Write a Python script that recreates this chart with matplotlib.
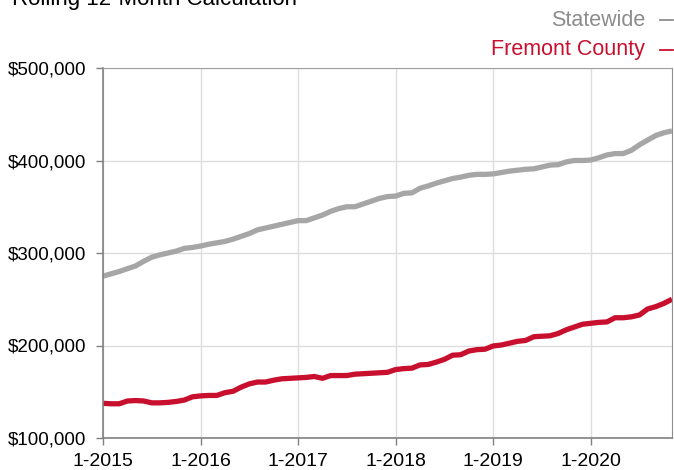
import matplotlib
matplotlib.use('Agg')
import matplotlib.pyplot as plt
from matplotlib.lines import Line2D
from matplotlib.ticker import FuncFormatter
import numpy as np

# monthly rolling 12-month values, 1-2015 .. 11-2020
statewide = [275, 277.5, 280, 283, 286, 291, 295.5, 298, 300, 302, 305, 306,
             307.5, 309.5, 311, 312.5, 315, 318, 321, 325, 327, 329, 331, 333,
             335, 335, 338, 341, 345, 348, 350, 350, 353, 356, 359, 361,
             361.5, 364.5, 365, 370, 372.5, 375.5, 378, 380.5, 382, 384, 385, 385,
             385.5, 387, 388.5, 389.5, 390.5, 391, 393, 395, 395.5, 398.5, 400, 400,
             400.5, 403, 406, 407.5, 407.5, 411, 417, 422, 427, 430, 432]
fremont = [137.5, 137, 137, 140, 140.5, 140, 138, 138, 138.5, 139.5, 141, 144.5,
           145.5, 146, 146, 149, 150.5, 155, 158.5, 160.5, 160.5, 162.5, 164, 164.5,
           165, 165.5, 166.5, 164.5, 167.5, 167.5, 167.5, 169, 169.5, 170, 170.5, 171,
           174, 175, 175.5, 179, 179.5, 182, 185, 189.5, 190, 194, 195.5, 196,
           199.5, 200.5, 202.5, 204.5, 205.5, 209.5, 210, 210.5, 213, 217, 220, 223,
           224, 225, 225.5, 230, 230, 231, 233, 239.5, 242, 245.5, 250]
year_labels = ['1-2015', '1-2016', '1-2017', '1-2018', '1-2019', '1-2020']

plt.rcParams['font.family'] = ['Liberation Sans', 'DejaVu Sans']

gray = '#a6a6a6'
red = '#c8102e'

fig = plt.figure(figsize=(6.74, 4.70), dpi=100)
ax = fig.add_axes([103 / 674, 32 / 470, 569 / 674, 370 / 470])

months = np.arange(len(statewide))
ax.plot(months, np.array(statewide) * 1000, color=gray, lw=3.8, solid_capstyle='butt')
ax.plot(months, np.array(fremont) * 1000, color=red, lw=3.8, solid_capstyle='butt')

ax.set_xlim(0, len(statewide) - 1)
ax.set_ylim(100000, 500000)
ax.set_xticks(np.arange(len(year_labels)) * 12)
ax.set_xticklabels(year_labels)
ax.set_yticks(np.arange(100000, 500001, 100000))
ax.yaxis.set_major_formatter(FuncFormatter(lambda v, p: '${:,.0f}'.format(v)))
ax.tick_params(labelsize=14, colors='#808080', labelcolor='black', length=5,
               width=1, direction='out')
ax.tick_params(axis='x', pad=6)
ax.tick_params(axis='y', pad=7, labelsize=13.5)
ax.grid(True, color='#dddddd', lw=1)
ax.set_axisbelow(True)
for s in ['left', 'bottom']:
    ax.spines[s].set_color('#808080')
    ax.spines[s].set_linewidth(1.2)
ax.spines['right'].set_color('#909090')
ax.spines['top'].set_color('#a0a0a0')

fig.text(12 / 674, 1 - 5 / 470, 'Rolling 12-Month Calculation', fontsize=16,
         ha='left', va='baseline', color='black')

fig.text(645 / 674, 1 - 20 / 470, 'Statewide', fontsize=15.5, color='#8c8c8c',
         ha='right', va='center')
fig.text(645 / 674, 1 - 50 / 470, 'Fremont County', fontsize=15.5, color=red,
         ha='right', va='center')
fig.add_artist(Line2D([660 / 674, 673 / 674], [1 - 20 / 470, 1 - 20 / 470],
                      color='#8c8c8c', lw=1.3))
fig.add_artist(Line2D([660 / 674, 673 / 674], [1 - 50 / 470, 1 - 50 / 470],
                      color=red, lw=1.3))

fig.savefig('out.png', dpi=100)
